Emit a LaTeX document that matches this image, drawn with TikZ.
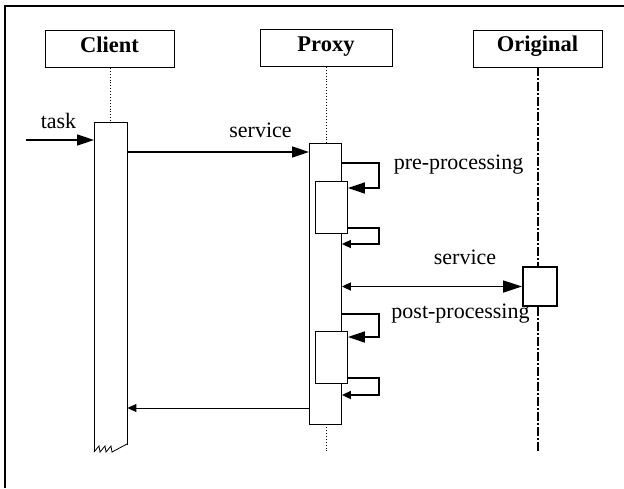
\documentclass[tikz,border=0pt]{standalone}
\usepackage{fontspec}
\setmainfont{Liberation Serif}
\usetikzlibrary{arrows.meta}
\begin{document}
\begin{tikzpicture}[x=1pt,y=-1pt,
  headbox/.style={draw,line width=0.9pt,minimum width=129pt,minimum height=37pt,inner sep=0pt,
     text height=15pt,text depth=9pt,font=\fontsize{22.5}{26}\selectfont\bfseries},
  actbox/.style={draw,line width=0.9pt,fill=white,anchor=north west,inner sep=0pt},
  lab/.style={anchor=base,inner sep=0pt,font=\fontsize{22}{26}\selectfont},
  big/.style={-{Triangle[length=17pt,width=11pt]}},
  small/.style={-{Triangle[length=9pt,width=8pt]}},
  msg/.style={line width=1.7pt},
  life/.style={dotted,line width=0.9pt},
]
\useasboundingbox (0,0) rectangle (624,488);
% frame (top and left edges)
\draw[line width=2.5pt] (5,488) -- (5,6) -- (624,6);

% heading boxes
\node[headbox] (client) at (109.5,49) {Client};
\node[headbox,minimum width=132pt] (proxy) at (326,48) {Proxy};
\node[headbox] (original) at (537.5,48.5) {Original};

% lifelines
\coordinate (clienttop) at (110,122);
\coordinate (proxytop) at (326,143);
\coordinate (proxyend) at (326,453);
\coordinate (origend) at (538,453);
\draw[life] (client.south -| clienttop) -- (clienttop);
\draw[life] (proxy.south) -- (proxytop);
\draw[life] (proxytop) -- (proxyend);
\draw[line width=2pt,dash pattern=on 9pt off 2pt on 2pt off 2pt] (original.south -| origend) -- (origend);

% client activation with broken bottom
\node[draw=none,anchor=north west,minimum width=33pt,minimum height=323pt,inner sep=0pt] (clientact) at (94,122) {};
\draw[line width=0.9pt,fill=white] (94,452) -- (94,122) -- (127,122) -- (127,445);
\draw[line width=0.8pt] (94,452) -- (99,446) -- (100,452) -- (105,446) -- (106,452) -- (111,446) -- (112,452) -- (127,444);

% proxy activation and nested boxes
\node[actbox,minimum width=32pt,minimum height=281pt] (proxyact) at (309,143) {};
\node[actbox,minimum width=32pt,minimum height=52pt] (pre) at (315,181) {};
\node[actbox,minimum width=32pt,minimum height=52pt] (post) at (315,331) {};

% original activation
\node[actbox,line width=2pt,minimum width=34pt,minimum height=39pt] (origact) at (522,266) {};

% task
\coordinate (taskstart) at (26,140);
\draw[msg,big] (taskstart) -- (taskstart -| clientact.west);
\node[lab] (tasklab) at (58.5,128) {task};

% service client -> proxy
\draw[msg,big] (clientact.east |- 0,152) -- (proxyact.west |- 0,152);
\node[lab] (servlab1) at (260.5,137) {service};

% pre-processing self calls
\coordinate (pr1) at (379,163);
\coordinate (pr2) at (379,188);
\draw[msg,big] (proxyact.east |- pr1) -- (pr1) -- (pr2) -- (pr2 -| pre.east);
\node[lab] (prelab) at (458.5,169) {pre-processing};
\coordinate (pr3) at (379,228);
\coordinate (pr4) at (379,244);
\draw[msg,small] (pre.east |- pr3) -- (pr3) -- (pr4) -- (pr4 -| proxyact.east);

% service proxy <-> original
\draw[msg,{Triangle[length=9pt,width=8pt]}-{Triangle[length=19pt,width=12pt]}] (proxyact.east |- origact.west) -- (origact.west);
\node[lab] (servlab2) at (465,264) {service};

% post-processing self calls
\coordinate (po1) at (379,314);
\coordinate (po2) at (379,337);
\draw[msg,big] (proxyact.east |- po1) -- (po1) -- (po2) -- (po2 -| post.east);
\node[lab] (postlab) at (460.5,318) {post-processing};
\coordinate (po3) at (379,378);
\coordinate (po4) at (379,395);
\draw[msg,small] (post.east |- po3) -- (po3) -- (po4) -- (po4 -| proxyact.east);

% return proxy -> client
\coordinate (ret) at (0,408);
\draw[line width=0.9pt,small] (proxyact.west |- ret) -- (clientact.east |- ret);
\end{tikzpicture}
\end{document}
